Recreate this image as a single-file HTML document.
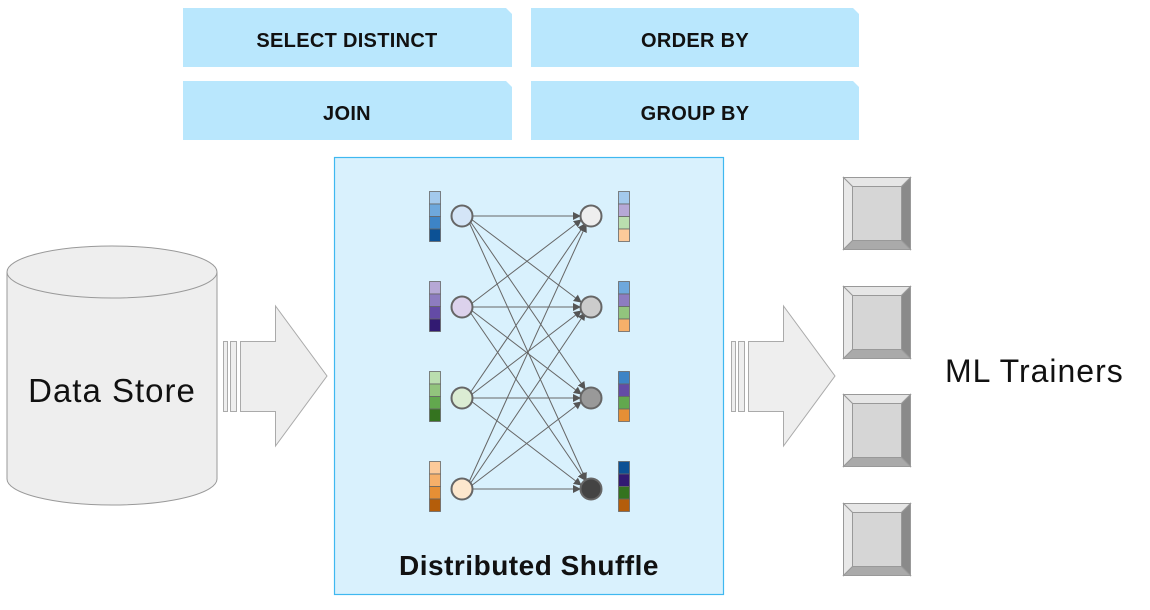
<!DOCTYPE html>
<html><head><meta charset="utf-8"><style>
html,body{margin:0;padding:0;background:#fff;}
svg{display:block;font-family:"Liberation Sans",sans-serif;}
</style></head><body>
<svg width="1150" height="610" viewBox="0 0 1150 610" xmlns="http://www.w3.org/2000/svg">
<defs>
<marker id="ah" markerWidth="8" markerHeight="8" refX="7" refY="4" orient="auto" markerUnits="userSpaceOnUse">
<path d="M0,0 L8,4 L0,8 z" fill="#555"/></marker>
</defs>
<g fill="#b9e7fd">
<path d="M183,8 H506 L512,14 V67 H183 z"/>
<path d="M531,8 H853 L859,14 V67 H531 z"/>
<path d="M183,81 H506 L512,87 V140 H183 z"/>
<path d="M531,81 H853 L859,87 V140 H531 z"/>
</g>
<g font-weight="bold" font-size="20" text-anchor="middle" fill="#111" letter-spacing="0.3">
<text x="347" y="47">SELECT DISTINCT</text>
<text x="695" y="47">ORDER BY</text>
<text x="347" y="120">JOIN</text>
<text x="695" y="120">GROUP BY</text>
</g>
<rect x="334.5" y="157.5" width="389" height="437" fill="#d9f1fd" stroke="#3fb8f0" stroke-width="1.2"/>
<path d="M7,272 V479 A105,26 0 0 0 217,479 V272" fill="#eeeeee" stroke="#999" stroke-width="1"/>
<ellipse cx="112" cy="272" rx="105" ry="26" fill="#eeeeee" stroke="#999" stroke-width="1"/>
<text x="112" y="402" font-size="33" text-anchor="middle" fill="#111" letter-spacing="1">Data Store</text>
<g fill="#eeeeee" stroke="#aaa" stroke-width="1">
<rect x="223.5" y="341.5" width="4" height="70"/>
<rect x="230.5" y="341.5" width="6" height="70"/>
<path d="M240.5,341.5 H275.5 V306 L327,376 L275.5,446 V411.5 H240.5 z"/>
<rect x="731.5" y="341.5" width="4" height="70"/>
<rect x="738.5" y="341.5" width="6" height="70"/>
<path d="M748.5,341.5 H783.5 V306 L835,376 L783.5,446 V411.5 H748.5 z"/>
</g>
<g stroke="#999" stroke-width="1">
<g id="t1">
<rect x="843.5" y="177.5" width="67" height="72" fill="#d6d6d6"/>
<path d="M843.5,177.5 H910.5 L901.5,186.5 H852.5 z" fill="#e6e6e6"/>
<path d="M843.5,177.5 L852.5,186.5 V240.5 L843.5,249.5 z" fill="#e8e8e8"/>
<path d="M910.5,177.5 L901.5,186.5 V240.5 L910.5,249.5 z" fill="#8a8a8a"/>
<path d="M843.5,249.5 L852.5,240.5 H901.5 L910.5,249.5 z" fill="#aaaaaa"/>
</g>
<use href="#t1" y="109"/>
<use href="#t1" y="217"/>
<use href="#t1" y="326"/>
</g>
<text x="945" y="382" font-size="32" fill="#111" letter-spacing="1">ML Trainers</text>
<g stroke="#666" stroke-width="1" fill="none" marker-end="url(#ah)">
<path d="M472,216 L580,216"/><path d="M471,219 L581,302"/><path d="M470,221 L585,389"/><path d="M469,222 L586,480"/>
<path d="M471,304 L581,220"/><path d="M472,307 L580,307"/><path d="M471,310 L581,394"/><path d="M470,312 L585,480"/>
<path d="M470,393 L585,224"/><path d="M471,395 L581,311"/><path d="M472,398 L580,398"/><path d="M471,401 L581,485"/>
<path d="M469,482 L586,225"/><path d="M470,484 L585,313"/><path d="M471,486 L581,402"/><path d="M472,489 L580,489"/>
</g>
<g stroke="#666" stroke-width="2">
<circle cx="462" cy="216" r="10.5" fill="#d4e5f7"/>
<circle cx="462" cy="307" r="10.5" fill="#dcd2ec"/>
<circle cx="462" cy="398" r="10.5" fill="#dbecd3"/>
<circle cx="462" cy="489" r="10.5" fill="#fde7cd"/>
<circle cx="591" cy="216" r="10.5" fill="#eeeeee"/>
<circle cx="591" cy="307" r="10.5" fill="#cccccc"/>
<circle cx="591" cy="398" r="10.5" fill="#999999"/>
<circle cx="591" cy="489" r="10.5" fill="#444444"/>
</g>
<g stroke="#666" stroke-width="0.8">
<rect x="429.5" y="191.5" width="11" height="12.5" fill="#a3c9ec"/><rect x="429.5" y="204" width="11" height="12.5" fill="#6ea8dc"/><rect x="429.5" y="216.5" width="11" height="12.5" fill="#3d84c6"/><rect x="429.5" y="229" width="11" height="12.5" fill="#0c5195"/>
<rect x="429.5" y="281.5" width="11" height="12.5" fill="#b6a8d6"/><rect x="429.5" y="294" width="11" height="12.5" fill="#8d7cc0"/><rect x="429.5" y="306.5" width="11" height="12.5" fill="#644ba6"/><rect x="429.5" y="319" width="11" height="12.5" fill="#321a72"/>
<rect x="429.5" y="371.5" width="11" height="12.5" fill="#badeaf"/><rect x="429.5" y="384" width="11" height="12.5" fill="#92c47d"/><rect x="429.5" y="396.5" width="11" height="12.5" fill="#62a84e"/><rect x="429.5" y="409" width="11" height="12.5" fill="#34731f"/>
<rect x="429.5" y="461.5" width="11" height="12.5" fill="#fcca9a"/><rect x="429.5" y="474" width="11" height="12.5" fill="#f6b06a"/><rect x="429.5" y="486.5" width="11" height="12.5" fill="#e68f35"/><rect x="429.5" y="499" width="11" height="12.5" fill="#b45d0a"/>
<rect x="618.5" y="191.5" width="11" height="12.5" fill="#a3c9ec"/><rect x="618.5" y="204" width="11" height="12.5" fill="#b6a8d6"/><rect x="618.5" y="216.5" width="11" height="12.5" fill="#badeaf"/><rect x="618.5" y="229" width="11" height="12.5" fill="#fcca9a"/>
<rect x="618.5" y="281.5" width="11" height="12.5" fill="#6ea8dc"/><rect x="618.5" y="294" width="11" height="12.5" fill="#8d7cc0"/><rect x="618.5" y="306.5" width="11" height="12.5" fill="#92c47d"/><rect x="618.5" y="319" width="11" height="12.5" fill="#f6b06a"/>
<rect x="618.5" y="371.5" width="11" height="12.5" fill="#3d84c6"/><rect x="618.5" y="384" width="11" height="12.5" fill="#644ba6"/><rect x="618.5" y="396.5" width="11" height="12.5" fill="#62a84e"/><rect x="618.5" y="409" width="11" height="12.5" fill="#e68f35"/>
<rect x="618.5" y="461.5" width="11" height="12.5" fill="#0c5195"/><rect x="618.5" y="474" width="11" height="12.5" fill="#321a72"/><rect x="618.5" y="486.5" width="11" height="12.5" fill="#34731f"/><rect x="618.5" y="499" width="11" height="12.5" fill="#b45d0a"/>
</g>
<text x="529" y="575" font-size="28" font-weight="bold" text-anchor="middle" fill="#111" letter-spacing="0.5">Distributed Shuffle</text>
</svg>
</body></html>
